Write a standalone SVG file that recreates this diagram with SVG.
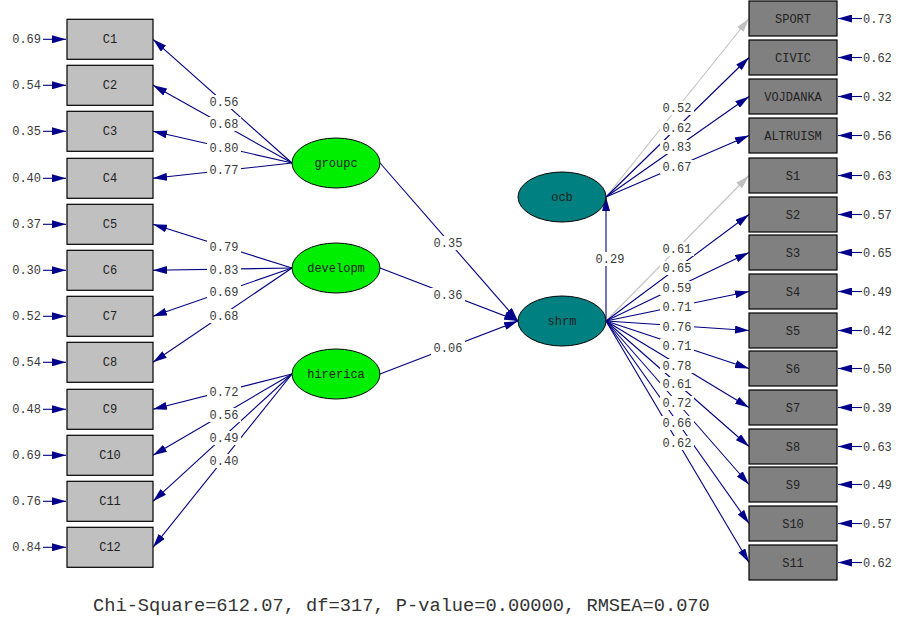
<svg xmlns="http://www.w3.org/2000/svg" width="898" height="626" viewBox="0 0 898 626">
<style>
.t{font-family:"Liberation Mono","Courier New",monospace;font-size:12px;fill:#3a3a3a;}
.lbl{font-family:"Liberation Mono","Courier New",monospace;font-size:12px;fill:#3a3a3a;text-anchor:middle;}
.bg{fill:#fff;}
.nt{font-family:"Liberation Mono","Courier New",monospace;font-size:12px;fill:#222;text-anchor:middle;}
.bl{fill:#c0c0c0;stroke:#000;stroke-width:1.2;}
.br{fill:#808080;stroke:#000;stroke-width:1.2;}
.eg{fill:#00ee00;stroke:#000;stroke-width:1;}
.et{fill:#008080;stroke:#000;stroke-width:1;}
.e{stroke:#000080;stroke-width:1.1;fill:none;marker-end:url(#ah);}
.g{stroke:#c0c0c0;stroke-width:1.1;fill:none;marker-end:url(#ahg);}
</style>
<defs>
<marker id="ah" viewBox="0 0 14 8" refX="14" refY="4" markerWidth="14" markerHeight="8" markerUnits="userSpaceOnUse" orient="auto"><path d="M0,0 L14,4 L0,8 z" fill="#00008b"/></marker>
<marker id="ahg" viewBox="0 0 14 8" refX="14" refY="4" markerWidth="14" markerHeight="8" markerUnits="userSpaceOnUse" orient="auto"><path d="M0,0 L14,4 L0,8 z" fill="#c0c0c0"/></marker>
</defs>
<rect width="898" height="626" fill="#fff"/>

<g id="connectors">
<path class="e" d="M43,39.3H66"/><path class="e" d="M43,85.3H66"/><path class="e" d="M43,131.3H66"/><path class="e" d="M43,178.3H66"/>
<path class="e" d="M43,224.3H66"/><path class="e" d="M43,270.3H66"/><path class="e" d="M43,316.3H66"/><path class="e" d="M43,362.3H66"/>
<path class="e" d="M43,409.3H66"/><path class="e" d="M43,455.3H66"/><path class="e" d="M43,501.3H66"/><path class="e" d="M43,547.3H66"/>
<path class="e" d="M292,163L153,39.3"/><path class="e" d="M292,163L153,85.3"/><path class="e" d="M292,163L153,131.3"/><path class="e" d="M292,163L153,178.3"/>
<path class="e" d="M292,268L153,224.3"/><path class="e" d="M292,268L153,270.3"/><path class="e" d="M292,268L153,316.3"/><path class="e" d="M292,268L153,362.3"/>
<path class="e" d="M292,374L153,409.3"/><path class="e" d="M292,374L153,455.3"/><path class="e" d="M292,374L153,501.3"/><path class="e" d="M292,374L153,547.3"/>
<path class="e" d="M380,163L518,321"/><path class="e" d="M380,268L518,321"/><path class="e" d="M380,374L518,321"/>
<path class="e" d="M606,321L606,197"/>
<path class="g" d="M606,197L749,18.5"/><path class="e" d="M606,197L749,57.5"/><path class="e" d="M606,197L749,96.5"/><path class="e" d="M606,197L749,135.5"/>
<path class="g" d="M606,321L749,175.5"/><path class="e" d="M606,321L749,214.5"/><path class="e" d="M606,321L749,252.5"/><path class="e" d="M606,321L749,291.5"/>
<path class="e" d="M606,321L749,330.5"/><path class="e" d="M606,321L749,368.5"/><path class="e" d="M606,321L749,407.5"/><path class="e" d="M606,321L749,446.5"/>
<path class="e" d="M606,321L749,484.5"/><path class="e" d="M606,321L749,523.5"/><path class="e" d="M606,321L749,562.5"/>
<path class="e" d="M862,18.5H838"/><path class="e" d="M862,57.5H838"/><path class="e" d="M862,96.5H838"/><path class="e" d="M862,135.5H838"/>
<path class="e" d="M862,175.5H838"/><path class="e" d="M862,214.5H838"/><path class="e" d="M862,252.5H838"/><path class="e" d="M862,291.5H838"/>
<path class="e" d="M862,330.5H838"/><path class="e" d="M862,368.5H838"/><path class="e" d="M862,407.5H838"/><path class="e" d="M862,446.5H838"/>
<path class="e" d="M862,484.5H838"/><path class="e" d="M862,523.5H838"/><path class="e" d="M862,562.5H838"/>
<!-- label backgrounds -->
<g class="bg">
<rect x="207" y="95" width="34" height="14"/><rect x="207" y="117" width="34" height="14"/><rect x="207" y="141" width="34" height="14"/><rect x="207" y="163" width="34" height="14"/>
<rect x="207" y="240" width="34" height="14"/><rect x="207" y="263" width="34" height="14"/><rect x="207" y="285" width="34" height="14"/><rect x="207" y="309" width="34" height="14"/>
<rect x="207" y="385" width="34" height="14"/><rect x="207" y="408" width="34" height="14"/><rect x="207" y="431" width="34" height="14"/><rect x="207" y="454" width="34" height="14"/>
<rect x="431" y="236" width="34" height="14"/><rect x="431" y="288" width="34" height="14"/><rect x="431" y="341" width="34" height="14"/>
<rect x="593" y="252" width="34" height="14"/>
<rect x="660" y="101" width="34" height="14"/><rect x="660" y="121" width="34" height="14"/><rect x="660" y="140" width="34" height="14"/><rect x="660" y="160" width="34" height="14"/>
<rect x="660" y="242" width="34" height="14"/><rect x="660" y="261" width="34" height="14"/><rect x="660" y="281" width="34" height="14"/><rect x="660" y="300" width="34" height="14"/>
<rect x="660" y="320" width="34" height="14"/><rect x="660" y="339" width="34" height="14"/><rect x="660" y="359" width="34" height="14"/><rect x="660" y="377" width="34" height="14"/>
<rect x="660" y="396" width="34" height="14"/><rect x="660" y="416" width="34" height="14"/><rect x="660" y="436" width="34" height="14"/>
</g>
<text class="lbl" x="224" y="106">0.56</text><text class="lbl" x="224" y="128">0.68</text><text class="lbl" x="224" y="152">0.80</text><text class="lbl" x="224" y="174">0.77</text>
<text class="lbl" x="224" y="251">0.79</text><text class="lbl" x="224" y="274">0.83</text><text class="lbl" x="224" y="296">0.69</text><text class="lbl" x="224" y="320">0.68</text>
<text class="lbl" x="224" y="396">0.72</text><text class="lbl" x="224" y="419">0.56</text><text class="lbl" x="224" y="442">0.49</text><text class="lbl" x="224" y="465">0.40</text>
<text class="lbl" x="448" y="247">0.35</text><text class="lbl" x="448" y="299">0.36</text><text class="lbl" x="448" y="352">0.06</text>
<text class="lbl" x="610" y="263">0.29</text>
<text class="lbl" x="677" y="112">0.52</text><text class="lbl" x="677" y="132">0.62</text><text class="lbl" x="677" y="151">0.83</text><text class="lbl" x="677" y="171">0.67</text>
<text class="lbl" x="677" y="253">0.61</text><text class="lbl" x="677" y="272">0.65</text><text class="lbl" x="677" y="292">0.59</text><text class="lbl" x="677" y="311">0.71</text>
<text class="lbl" x="677" y="331">0.76</text><text class="lbl" x="677" y="350">0.71</text><text class="lbl" x="677" y="370">0.78</text><text class="lbl" x="677" y="388">0.61</text>
<text class="lbl" x="677" y="407">0.72</text><text class="lbl" x="677" y="427">0.66</text><text class="lbl" x="677" y="447">0.62</text>
</g>

<g id="left-errors">
<text class="t" x="41" y="43.3" text-anchor="end">0.69</text><text class="t" x="41" y="89.3" text-anchor="end">0.54</text>
<text class="t" x="41" y="135.3" text-anchor="end">0.35</text><text class="t" x="41" y="182.3" text-anchor="end">0.40</text>
<text class="t" x="41" y="228.3" text-anchor="end">0.37</text><text class="t" x="41" y="274.3" text-anchor="end">0.30</text>
<text class="t" x="41" y="320.3" text-anchor="end">0.52</text><text class="t" x="41" y="366.3" text-anchor="end">0.54</text>
<text class="t" x="41" y="413.3" text-anchor="end">0.48</text><text class="t" x="41" y="459.3" text-anchor="end">0.69</text>
<text class="t" x="41" y="505.3" text-anchor="end">0.76</text><text class="t" x="41" y="551.3" text-anchor="end">0.84</text>
</g>
<g id="right-errors">
<text class="t" x="863" y="22.5">0.73</text><text class="t" x="863" y="61.5">0.62</text><text class="t" x="863" y="100.5">0.32</text>
<text class="t" x="863" y="139.5">0.56</text><text class="t" x="863" y="179.5">0.63</text><text class="t" x="863" y="218.5">0.57</text>
<text class="t" x="863" y="256.5">0.65</text><text class="t" x="863" y="295.5">0.49</text><text class="t" x="863" y="334.5">0.42</text>
<text class="t" x="863" y="372.5">0.50</text><text class="t" x="863" y="411.5">0.39</text><text class="t" x="863" y="450.5">0.63</text>
<text class="t" x="863" y="488.5">0.49</text><text class="t" x="863" y="527.5">0.57</text><text class="t" x="863" y="566.5">0.62</text>
</g>

<g id="C1"><rect class="bl" x="67" y="19.3" width="86" height="40"/><text class="nt" x="110" y="43.3">C1</text></g>
<g id="C2"><rect class="bl" x="67" y="65.3" width="86" height="40"/><text class="nt" x="110" y="89.3">C2</text></g>
<g id="C3"><rect class="bl" x="67" y="111.3" width="86" height="40"/><text class="nt" x="110" y="135.3">C3</text></g>
<g id="C4"><rect class="bl" x="67" y="158.3" width="86" height="40"/><text class="nt" x="110" y="182.3">C4</text></g>
<g id="C5"><rect class="bl" x="67" y="204.3" width="86" height="40"/><text class="nt" x="110" y="228.3">C5</text></g>
<g id="C6"><rect class="bl" x="67" y="250.3" width="86" height="40"/><text class="nt" x="110" y="274.3">C6</text></g>
<g id="C7"><rect class="bl" x="67" y="296.3" width="86" height="40"/><text class="nt" x="110" y="320.3">C7</text></g>
<g id="C8"><rect class="bl" x="67" y="342.3" width="86" height="40"/><text class="nt" x="110" y="366.3">C8</text></g>
<g id="C9"><rect class="bl" x="67" y="389.3" width="86" height="40"/><text class="nt" x="110" y="413.3">C9</text></g>
<g id="C10"><rect class="bl" x="67" y="435.3" width="86" height="40"/><text class="nt" x="110" y="459.3">C10</text></g>
<g id="C11"><rect class="bl" x="67" y="481.3" width="86" height="40"/><text class="nt" x="110" y="505.3">C11</text></g>
<g id="C12"><rect class="bl" x="67" y="527.3" width="86" height="40"/><text class="nt" x="110" y="551.3">C12</text></g>

<g id="groupc"><ellipse class="eg" cx="336" cy="163" rx="44" ry="25"/><text class="nt" x="336" y="167">groupc</text></g>
<g id="developm"><ellipse class="eg" cx="336" cy="268" rx="44" ry="25"/><text class="nt" x="336" y="272">developm</text></g>
<g id="hirerica"><ellipse class="eg" cx="336" cy="374" rx="44" ry="25"/><text class="nt" x="336" y="378">hirerica</text></g>
<g id="ocb"><ellipse class="et" cx="562" cy="197" rx="44" ry="25"/><text class="nt" x="562" y="201">ocb</text></g>
<g id="shrm"><ellipse class="et" cx="562" cy="321" rx="44" ry="25"/><text class="nt" x="562" y="325">shrm</text></g>

<g id="SPORT"><rect class="br" x="749" y="1" width="88" height="35"/><text class="nt" x="793" y="22.5">SPORT</text></g>
<g id="CIVIC"><rect class="br" x="749" y="40" width="88" height="35"/><text class="nt" x="793" y="61.5">CIVIC</text></g>
<g id="VOJDANKA"><rect class="br" x="749" y="79" width="88" height="35"/><text class="nt" x="793" y="100.5">VOJDANKA</text></g>
<g id="ALTRUISM"><rect class="br" x="749" y="118" width="88" height="35"/><text class="nt" x="793" y="139.5">ALTRUISM</text></g>
<g id="S1"><rect class="br" x="749" y="158" width="88" height="35"/><text class="nt" x="793" y="179.5">S1</text></g>
<g id="S2"><rect class="br" x="749" y="197" width="88" height="35"/><text class="nt" x="793" y="218.5">S2</text></g>
<g id="S3"><rect class="br" x="749" y="235" width="88" height="35"/><text class="nt" x="793" y="256.5">S3</text></g>
<g id="S4"><rect class="br" x="749" y="274" width="88" height="35"/><text class="nt" x="793" y="295.5">S4</text></g>
<g id="S5"><rect class="br" x="749" y="313" width="88" height="35"/><text class="nt" x="793" y="334.5">S5</text></g>
<g id="S6"><rect class="br" x="749" y="351" width="88" height="35"/><text class="nt" x="793" y="372.5">S6</text></g>
<g id="S7"><rect class="br" x="749" y="390" width="88" height="35"/><text class="nt" x="793" y="411.5">S7</text></g>
<g id="S8"><rect class="br" x="749" y="429" width="88" height="35"/><text class="nt" x="793" y="450.5">S8</text></g>
<g id="S9"><rect class="br" x="749" y="467" width="88" height="35"/><text class="nt" x="793" y="488.5">S9</text></g>
<g id="S10"><rect class="br" x="749" y="506" width="88" height="35"/><text class="nt" x="793" y="527.5">S10</text></g>
<g id="S11"><rect class="br" x="749" y="545" width="88" height="35"/><text class="nt" x="793" y="566.5">S11</text></g>

<text x="93" y="611" style="font-family:'Liberation Mono','Courier New',monospace;font-size:18.7px;fill:#333;">Chi-Square=612.07, df=317, P-value=0.00000, RMSEA=0.070</text>
</svg>
